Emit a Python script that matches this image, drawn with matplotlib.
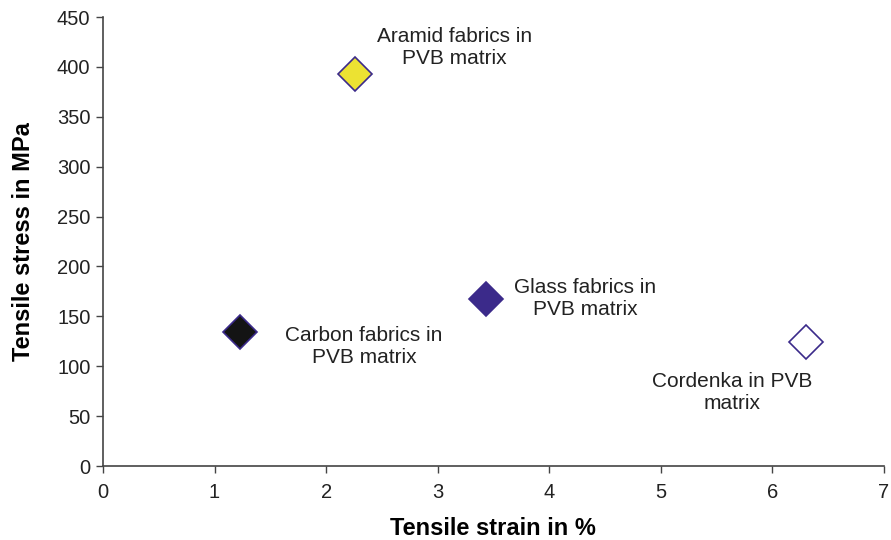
import matplotlib.pyplot as plt

plt.rcParams['font.family'] = ['Liberation Sans', 'DejaVu Sans']

# data
names = ['Aramid fabrics in\nPVB matrix', 'Carbon fabrics in\nPVB matrix',
         'Glass fabrics in\nPVB matrix', 'Cordenka in PVB\nmatrix']
strain = [2.26, 1.23, 3.43, 6.30]
stress = [393, 134, 167, 124]
label_x = [3.15, 2.34, 4.32, 5.64]
label_y = [419, 120, 168, 74]
fills = ['#ECE232', '#141414', '#3B2A8A', 'white']
edge = '#3B2A8A'

fig = plt.figure(figsize=(8.91, 5.4), dpi=100)
ax = fig.add_axes([0.1156, 0.137, 0.8764, 0.8315])

for x, y, c in zip(strain, stress, fills):
    ax.plot(x, y, marker='D', ms=17, mfc=c, mec=edge, mew=1.2, ls='none')

for nm, lx, ly in zip(names, label_x, label_y):
    ax.text(lx, ly, nm, ha='center', va='center', fontsize=15, color='#222222',
            linespacing=1.2)

ax.set_xlim(0, 7)
ax.set_ylim(0, 450)
ax.set_xticks(range(0, 8))
ax.set_yticks(range(0, 451, 50))
ax.tick_params(labelsize=14.5, length=5, width=1, color='#444444', labelcolor='#222222')
ax.tick_params(axis='x', pad=7)
ax.tick_params(axis='y', pad=4)
for s in ['top', 'right']:
    ax.spines[s].set_visible(False)
for s in ['left', 'bottom']:
    ax.spines[s].set_color('#444444')
    ax.spines[s].set_linewidth(1.2)

ax.set_xlabel('Tensile strain in %', fontsize=17, fontweight='bold', labelpad=11)
ax.set_ylabel('Tensile stress in MPa', fontsize=17, fontweight='bold', labelpad=16)

fig.savefig('out.png', dpi=100)
